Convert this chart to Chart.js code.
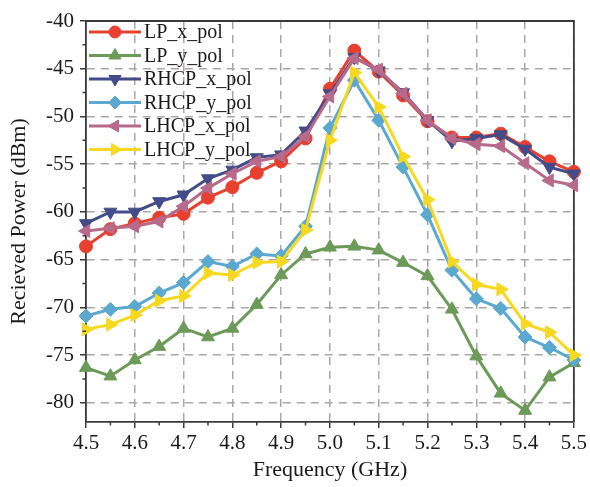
<!DOCTYPE html>
<html>
<head>
<meta charset="utf-8">
<script src="https://cdn.jsdelivr.net/npm/chart.js@4.4.1/dist/chart.umd.min.js"></script>
<style>
  html, body { margin: 0; padding: 0; background: #fff; }
</style>
</head>
<body>
<canvas id="chart-power" width="590" height="487"></canvas>
<script>
// Measured received power vs. frequency for each antenna / polarisation pair
const frequency = [4.5, 4.55, 4.6, 4.65, 4.7, 4.75, 4.8, 4.85, 4.9, 4.95, 5.0,
                   5.05, 5.1, 5.15, 5.2, 5.25, 5.3, 5.35, 5.4, 5.45, 5.5];

const lpX   = [-63.6, -61.8, -61.2, -60.6, -60.2, -58.5, -57.4, -55.9, -54.7, -52.3, -47.1,
               -43.1, -45.3, -47.8, -50.5, -52.2, -52.2, -51.8, -53.2, -54.7, -55.8];
const lpY   = [-76.3, -77.2, -75.5, -74.1, -72.2, -73.1, -72.2, -69.7, -66.6, -64.4, -63.7,
               -63.6, -64.0, -65.3, -66.7, -70.2, -75.1, -79.0, -80.8, -77.3, -75.8];
const rhcpX = [-61.2, -60.0, -60.0, -58.9, -58.2, -56.5, -55.6, -54.3, -54.0, -51.5, -47.6,
               -43.8, -45.2, -47.5, -50.4, -52.6, -52.3, -51.9, -53.4, -55.3, -56.0];
const rhcpY = [-70.9, -70.2, -69.9, -68.5, -67.4, -65.2, -65.7, -64.4, -64.6, -61.5, -51.2,
               -46.2, -50.4, -55.3, -60.3, -66.1, -69.1, -70.1, -73.1, -74.2, -75.5];
const lhcpX = [-62.0, -61.7, -61.5, -61.0, -59.4, -57.5, -56.0, -54.7, -54.2, -52.1, -47.9,
               -43.9, -45.1, -47.6, -50.4, -52.3, -52.9, -53.1, -54.9, -56.7, -57.2];
const lhcpY = [-72.3, -71.8, -70.8, -69.3, -68.8, -66.4, -66.6, -65.3, -65.2, -61.9, -52.5,
               -45.4, -49.0, -54.2, -58.7, -65.2, -67.6, -68.1, -71.7, -72.6, -75.0];

const seriesNames = ["LP_x_pol", "LP_y_pol", "RHCP_x_pol", "RHCP_y_pol", "LHCP_x_pol", "LHCP_y_pol"];
const seriesValues = [lpX, lpY, rhcpX, rhcpY, lhcpX, lhcpY];

const colors = ["#e8402f", "#6c9a58", "#434c88", "#5ba8d0", "#b86a8b", "#f6d81f"];
const markers = [
  { style: "circle", rotation: 0, radius: 6.5 },
  { style: "triangle", rotation: 0, radius: 7.5 },
  { style: "triangle", rotation: 180, radius: 7.5 },
  { style: "rectRot", rotation: 0, radius: 7 },
  { style: "triangle", rotation: -90, radius: 7.5 },
  { style: "triangle", rotation: 90, radius: 7.5 },
];

const serif = "'Liberation Serif', 'Times New Roman', serif";
const axisColor = "#3a3a3a";
const textColor = "#1a1a1a";

const datasets = seriesNames.map((name, i) => ({
  label: name,
  data: frequency.map((f, k) => ({ x: f, y: seriesValues[i][k] })),
  borderColor: colors[i],
  backgroundColor: colors[i],
  pointBackgroundColor: colors[i],
  pointBorderColor: colors[i],
  pointBorderWidth: 1,
  pointStyle: markers[i].style,
  pointRotation: markers[i].rotation,
  pointRadius: markers[i].radius,
  borderWidth: 3,
  tension: 0,
  clip: false,
  order: seriesNames.length - i, // later series drawn on top
}));

// top + right frame lines
const plotFrame = {
  id: "plotFrame",
  beforeDatasetsDraw(chart) {
    const { ctx, chartArea: a } = chart;
    ctx.save();
    ctx.strokeStyle = axisColor;
    ctx.lineWidth = 1.8;
    ctx.beginPath();
    ctx.moveTo(a.left, a.top);
    ctx.lineTo(a.right, a.top);
    ctx.lineTo(a.right, a.bottom);
    ctx.stroke();
    ctx.restore();
  },
};

// small ticks half way between the labelled ones
const minorTicks = {
  id: "minorTicks",
  afterDraw(chart) {
    const { ctx, chartArea: a, scales } = chart;
    ctx.save();
    ctx.strokeStyle = axisColor;
    ctx.lineWidth = 1.5;
    ctx.beginPath();
    const xt = scales.x.ticks;
    for (let i = 0; i < xt.length - 1; i++) {
      const px = scales.x.getPixelForValue((xt[i].value + xt[i + 1].value) / 2);
      ctx.moveTo(px, a.bottom);
      ctx.lineTo(px, a.bottom + 3.5);
    }
    const yt = scales.y.ticks;
    for (let i = 0; i < yt.length - 1; i++) {
      const py = scales.y.getPixelForValue((yt[i].value + yt[i + 1].value) / 2);
      ctx.moveTo(a.left, py);
      ctx.lineTo(a.left - 3.5, py);
    }
    ctx.stroke();
    ctx.restore();
  },
};

// legend in the upper left corner of the plot
const cornerLegend = {
  id: "cornerLegend",
  afterDraw(chart) {
    const { ctx, chartArea: a } = chart;
    ctx.save();
    ctx.font = "20px " + serif;
    ctx.textBaseline = "middle";
    chart.data.datasets.forEach((ds, i) => {
      const y = a.top + 11 + i * 23.5;
      const x0 = a.left + 3;
      const x1 = x0 + 52;
      ctx.strokeStyle = ds.borderColor;
      ctx.lineWidth = ds.borderWidth;
      ctx.beginPath();
      ctx.moveTo(x0, y);
      ctx.lineTo(x1, y);
      ctx.stroke();
      ctx.fillStyle = ds.backgroundColor;
      ctx.lineWidth = 1;
      Chart.helpers.drawPoint(ctx, {
        pointStyle: ds.pointStyle,
        rotation: ds.pointRotation,
        radius: ds.pointRadius - 0.5,
        borderWidth: 1,
      }, (x0 + x1) / 2, y);
      ctx.fillStyle = textColor;
      ctx.fillText(ds.label, x1 + 3, y + 1);
    });
    ctx.restore();
  },
};

const ctx = document.getElementById("chart-power").getContext("2d");
new Chart(ctx, {
  type: "line",
  data: { datasets },
  plugins: [plotFrame, minorTicks, cornerLegend],
  options: {
    responsive: false,
    animation: false,
    layout: { padding: { left: 0, right: 14, top: 21, bottom: 0 } },
    plugins: { legend: { display: false }, tooltip: { enabled: false } },
    scales: {
      x: {
        type: "linear",
        min: 4.5,
        max: 5.5,
        afterFit: (s) => { s.height = 65; },
        ticks: {
          stepSize: 0.1,
          padding: 3,
          color: textColor,
          font: { family: serif, size: 21 },
          maxRotation: 0,
          callback: (v) => v.toFixed(1),
        },
        grid: {
          color: "#aca5a5",
          lineWidth: 1.5,
          tickColor: axisColor,
          tickLength: 6,
          tickWidth: 1.5,
        },
        border: { display: true, color: axisColor, width: 1.8, dash: [8, 6] },
        title: {
          display: true,
          text: "Frequency (GHz)",
          color: textColor,
          font: { family: serif, size: 22 },
          padding: { top: 0, bottom: 4 },
        },
      },
      y: {
        min: -82,
        max: -40,
        afterFit: (s) => { s.width = 86; },
        ticks: {
          stepSize: 5,
          includeBounds: false,
          padding: 6,
          color: textColor,
          font: { family: serif, size: 21 },
        },
        grid: {
          color: "#aca5a5",
          lineWidth: 1.5,
          tickColor: axisColor,
          tickLength: 6,
          tickWidth: 1.5,
        },
        border: { display: true, color: axisColor, width: 1.8, dash: [8, 6] },
        title: {
          display: true,
          text: "Recieved Power (dBm)",
          color: textColor,
          font: { family: serif, size: 22 },
          padding: { top: 6, bottom: 0 },
        },
      },
    },
  },
});
</script>
</body>
</html>
